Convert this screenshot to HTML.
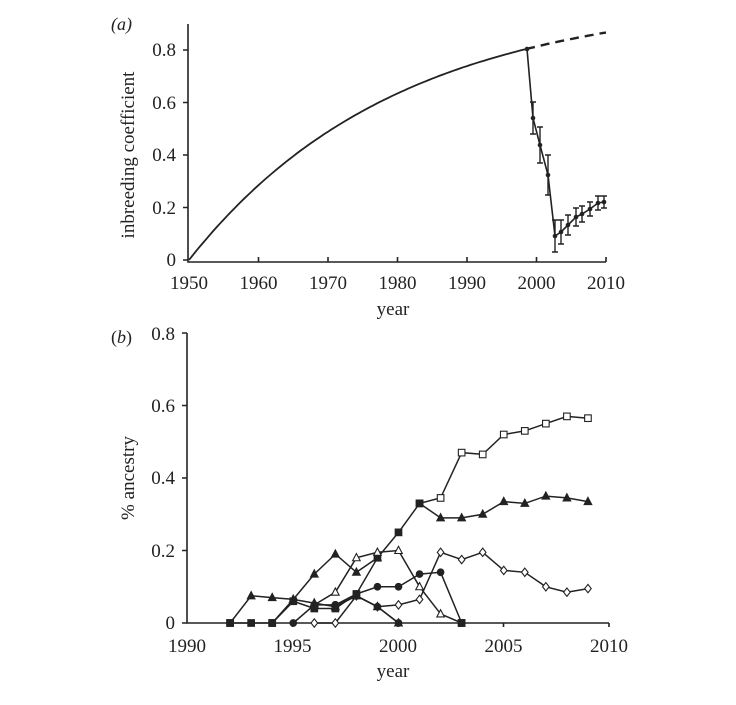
<!DOCTYPE html>
<html><head><meta charset="utf-8"><style>
body{margin:0;background:#fff;}
svg{display:block;font-family:"Liberation Serif",serif;}
</style></head><body>
<svg id="s" width="736" height="705" viewBox="0 0 736 705" xmlns="http://www.w3.org/2000/svg">
<g stroke="#222" stroke-width="1.6" fill="none">
<path d="M188 24V262H606"/>
<path d="M183 260H188M183 207.5H188M183 155H188M183 102.5H188M183 50H188"/>
<path d="M258.5 262v-5M328 262v-5M397.5 262v-5M467 262v-5M536.5 262v-5M606 262v-5"/>
<path d="M187 333V623H609"/>
<path d="M182 623H187M182 550.5H187M182 478H187M182 405.5H187M182 333H187"/>
<path d="M292.5 623v4M398 623v4M503.5 623v4M609 623v4"/>
</g>
<g font-size="19" fill="#222" text-anchor="end">
<text x="176" y="266">0</text><text x="176" y="214">0.2</text><text x="176" y="161">0.4</text><text x="176" y="109">0.6</text><text x="176" y="56">0.8</text>
<text x="175" y="629">0</text><text x="175" y="557">0.2</text><text x="175" y="484">0.4</text><text x="175" y="412">0.6</text><text x="175" y="340">0.8</text>
</g>
<g font-size="19" fill="#222" text-anchor="middle">
<text x="189" y="289">1950</text><text x="258.5" y="289">1960</text><text x="328" y="289">1970</text><text x="397.5" y="289">1980</text><text x="467" y="289">1990</text><text x="536.5" y="289">2000</text><text x="606" y="289">2010</text>
<text x="393" y="315">year</text>
<text x="187" y="652">1990</text><text x="292.5" y="652">1995</text><text x="398" y="652">2000</text><text x="503.5" y="652">2005</text><text x="609" y="652">2010</text>
<text x="393" y="677">year</text>
<text transform="translate(134 155) rotate(-90)">inbreeding coefficient</text>
<text transform="translate(134 478) rotate(-90)">% ancestry</text>
</g>
<text x="111" y="30" font-size="18" font-style="italic" fill="#222">(a)</text>
<text x="111" y="343" font-size="18" fill="#222">(<tspan font-style="italic">b</tspan>)</text>
<g id="g"></g>
</svg>
<script>
var g=document.getElementById('g'),NS='http://www.w3.org/2000/svg';
function el(t,a){var e=document.createElementNS(NS,t);for(var k in a)e.setAttribute(k,a[k]);g.appendChild(e);return e;}
var d='',dd='';
for(var t=0;t<=48.5;t+=0.5){var x=189+t*6.95,y=260-262.5*(1-Math.exp(-t/29.8));d+=(t?'L':'M')+x.toFixed(1)+' '+y.toFixed(1);}
for(var t=48.5;t<=60;t+=0.5){var x=189+t*6.95,y=260-262.5*(1-Math.exp(-t/29.8));dd+=(t>48.5?'L':'M')+x.toFixed(1)+' '+y.toFixed(1);}
el('path',{d:d,stroke:'#222','stroke-width':1.8,fill:'none'});
el('path',{d:dd,stroke:'#222','stroke-width':2.4,fill:'none','stroke-dasharray':'9 6'});
var P=[[527,49,0],[533,118,16],[540,145,18],[548,175,20],[555,236,16],[561,232,12],[568,225,10],[576,217,9],[582,214,8],[590,209,7],[598,203,7],[604,202,6]];
var pd='';P.forEach(function(p,i){pd+=(i?'L':'M')+p[0]+' '+p[1];
if(p[2]){el('path',{d:'M'+p[0]+' '+(p[1]-p[2])+'V'+(p[1]+p[2])+'M'+(p[0]-3)+' '+(p[1]-p[2])+'h6M'+(p[0]-3)+' '+(p[1]+p[2])+'h6',stroke:'#222','stroke-width':1.4});}
el('circle',{cx:p[0],cy:p[1],r:2.3,fill:'#222'});});
el('path',{d:pd,stroke:'#222','stroke-width':1.6,fill:'none'});
function X(y){return 188+(y-1990)*21.05;}function Y(v){return 623-v*362.5;}
function mk(type,x,y,fill){var f=fill?'#222':'#fff';
 if(type=='s')el('rect',{x:x-3.3,y:y-3.3,width:6.6,height:6.6,fill:f,stroke:'#222','stroke-width':1.1});
 if(type=='t')el('path',{d:'M'+x+' '+(y-4.2)+'L'+(x+3.8)+' '+(y+3)+'L'+(x-3.8)+' '+(y+3)+'Z',fill:f,stroke:'#222','stroke-width':1.1});
 if(type=='c')el('circle',{cx:x,cy:y,r:3.3,fill:f,stroke:'#222','stroke-width':1.1});
 if(type=='d')el('path',{d:'M'+x+' '+(y-4.2)+'L'+(x+3.3)+' '+y+'L'+x+' '+(y+4.2)+'L'+(x-3.3)+' '+y+'Z',fill:f,stroke:'#222','stroke-width':1.1});
}
function series(pts){var d='';pts.forEach(function(p,i){d+=(i?'L':'M')+X(p[0]).toFixed(1)+' '+Y(p[1]).toFixed(1);});
 el('path',{d:d,stroke:'#222','stroke-width':1.5,fill:'none'});
 pts.forEach(function(p){mk(p[2],X(p[0]),Y(p[1]),p[3]);});}
series([[1992,0,'s',1],[1993,0,'s',1],[1994,0,'s',1],[1995,.06,'s',1],[1996,.04,'s',1],[1997,.04,'s',1],[1998,.08,'s',1],[1999,.18,'s',1],[2000,.25,'s',1],[2001,.33,'s',1],[2002,.345,'s',0],[2003,.47,'s',0],[2004,.465,'s',0],[2005,.52,'s',0],[2006,.53,'s',0],[2007,.55,'s',0],[2008,.57,'s',0],[2009,.565,'s',0]]);
series([[2001,.33,'s',1],[2002,.29,'t',1],[2003,.29,'t',1],[2004,.30,'t',1],[2005,.335,'t',1],[2006,.33,'t',1],[2007,.35,'t',1],[2008,.345,'t',1],[2009,.335,'t',1]]);
series([[1992,0,'s',1],[1993,.075,'t',1],[1994,.07,'t',1],[1995,.065,'t',1],[1996,.055,'t',1],[1997,.045,'t',1],[1998,.075,'t',1],[1999,.045,'t',1],[2000,0,'t',1]]);
series([[1994,0,'s',1],[1995,.065,'t',1],[1996,.135,'t',1],[1997,.19,'t',1],[1998,.14,'t',1],[1999,.18,'t',1]]);
series([[1996,.05,'t',0],[1997,.085,'t',0],[1998,.18,'t',0],[1999,.195,'t',0],[2000,.20,'t',0],[2001,.10,'t',0],[2002,.025,'t',0],[2003,0,'s',1]]);
series([[1995,0,'c',1],[1996,.05,'c',1],[1997,.05,'c',1],[1998,.08,'c',1],[1999,.10,'c',1],[2000,.10,'c',1],[2001,.135,'c',1],[2002,.14,'c',1],[2003,0,'s',1]]);
series([[1996,0,'d',0],[1997,0,'d',0],[1998,.075,'d',0],[1999,.045,'d',0],[2000,.05,'d',0],[2001,.065,'d',0],[2002,.195,'d',0],[2003,.175,'d',0],[2004,.195,'d',0],[2005,.145,'d',0],[2006,.14,'d',0],[2007,.10,'d',0],[2008,.085,'d',0],[2009,.095,'d',0]]);
series([[1997,.05,'c',1],[1998,.075,'c',1],[1999,.045,'c',1],[2000,0,'c',1]]);
</script>
</body></html>
